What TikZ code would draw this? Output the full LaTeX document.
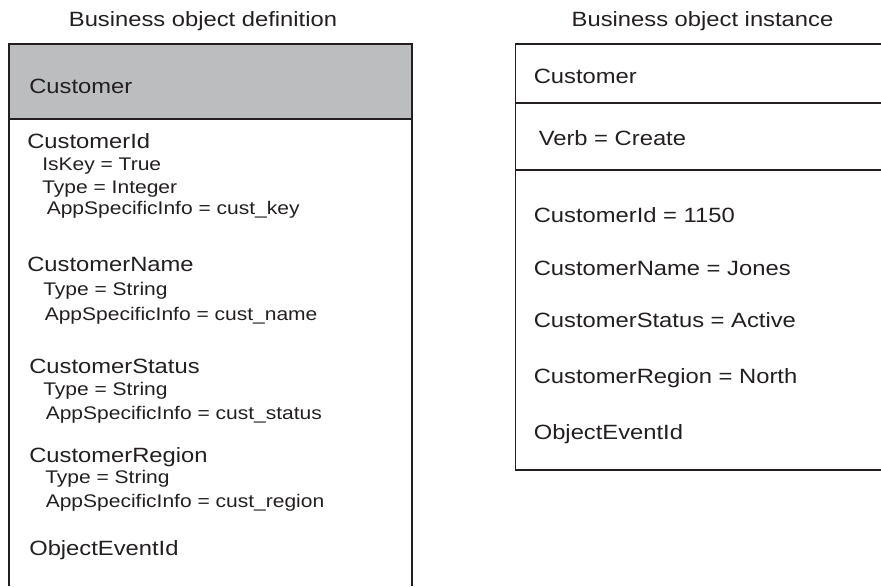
\documentclass[tikz,border=0pt]{standalone}
\usepackage{fontspec}
\setmainfont[FakeStretch=1.15]{Liberation Sans}
\definecolor{ink}{HTML}{231F20}
\definecolor{hdr}{HTML}{BCBDBF}
\tikzset{
  big/.style={anchor=base west, inner sep=0pt, text=ink, font=\fontsize{15.5}{18}\selectfont},
  small/.style={anchor=base west, inner sep=0pt, text=ink, font=\fontsize{13.7}{16}\selectfont},
  ttl/.style={anchor=base, inner sep=0pt, text=ink, font=\fontsize{15.5}{18}\selectfont},
  frame/.style={draw=ink, line width=1pt},
}
\begin{document}
\begin{tikzpicture}[x=0.75pt,y=-0.75pt]
\useasboundingbox (0,0) rectangle (881,586);
% titles
\node[ttl] (t1) at (203,26) {Business object definition};
\node[ttl] (t2) at (702.5,26) {Business object instance};
% left box
\fill[hdr] (9,44) rectangle (412,119);
\draw[frame] (9,586) -- (9,44) -- (412,44) -- (412,586);
\draw[draw=ink, line width=1.6pt] (9,44) -- (412,44);
\draw[frame] (9,119) -- (412,119);
\node[big] (lc) at (29,93) {Customer};
\node[big] (lid) at (27,148.5) {CustomerId};
\node[small] (lid1) at (42,170) {IsKey = True};
\node[small] (lid2) at (42,193) {Type = Integer};
\node[small] (lid3) at (46.5,214.5) {AppSpecificInfo = cust\_key};
\node[big] (lnm) at (27,271.5) {CustomerName};
\node[small] (lnm1) at (43,295) {Type = String};
\node[small] (lnm2) at (44.5,320) {AppSpecificInfo = cust\_name};
\node[big] (lst) at (29,373.5) {CustomerStatus};
\node[small] (lst1) at (43,395) {Type = String};
\node[small] (lst2) at (45.5,419) {AppSpecificInfo = cust\_status};
\node[big] (lrg) at (29,462.5) {CustomerRegion};
\node[small] (lrg1) at (45,483.5) {Type = String};
\node[small] (lrg2) at (45.5,507.5) {AppSpecificInfo = cust\_region};
\node[big] (lev) at (29,555) {ObjectEventId};
% right box
\draw[frame] (881,44) -- (515.5,44) -- (515.5,470) -- (881,470);
\draw[frame] (515.5,103) -- (881,103);
\draw[frame] (515.5,170) -- (881,170);
\node[big] (rc) at (533.5,83.5) {Customer};
\node[big] (rv) at (538.5,145) {Verb = Create};
\node[big] (rid) at (533.5,222.5) {CustomerId = 1150};
\node[big] (rnm) at (533.5,275.5) {CustomerName = Jones};
\node[big] (rst) at (533.5,327.5) {CustomerStatus = Active};
\node[big] (rrg) at (533.5,383) {CustomerRegion = North};
\node[big] (rev) at (533.5,439) {ObjectEventId};
\end{tikzpicture}
\end{document}
